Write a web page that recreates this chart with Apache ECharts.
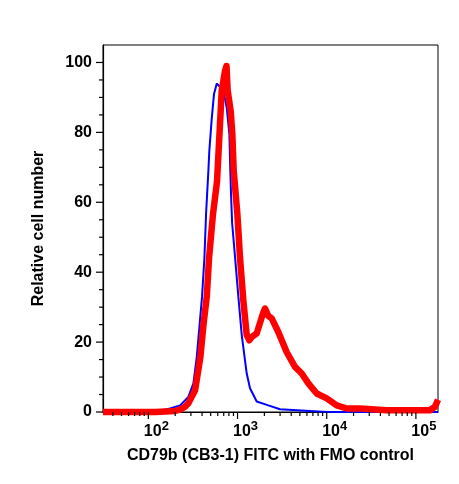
<!DOCTYPE html>
<html>
<head>
<meta charset="utf-8">
<script src="https://cdn.jsdelivr.net/npm/echarts@6/dist/echarts.min.js"></script>
<style>
  html, body { margin: 0; padding: 0; background: #fff; }
  #chart { width: 459px; height: 484px; }
</style>
</head>
<body>
<div id="chart"></div>
<script>
// FMO control (blue), [fluorescence, relative cell number]
const fmoData = [
  [31, 0], [120, 0], [175, 1], [227, 1.9], [281, 4.3], [320, 8.2], [349, 15.7],
  [400, 33], [425, 44], [444, 56.8], [471, 69], [483, 74.8], [514, 84], [545, 91],
  [585, 94], [609, 94.3], [693, 92], [757, 87], [810, 79.6], [830, 69], [846, 62],
  [870, 54], [938, 44.3], [1021, 33], [1115, 22], [1268, 11], [1380, 6.8],
  [1641, 3], [2214, 1.9], [2993, 0.8], [6502, 0.3], [10000, 0], [177000, 0]
];
// CD79b (CB3-1) FITC stained (red)
const stainedData = [
  [31, 0], [120, 0], [199, 0.3], [227, 0.7], [258, 1.5], [281, 2.5], [334, 6.2],
  [383, 15.7], [415, 25], [452, 33], [479, 44], [531, 56.7], [589, 66], [665, 92],
  [724, 97.6], [752, 99], [775, 92], [839, 86], [874, 79.5], [906, 69], [995, 56.7],
  [1067, 44], [1161, 32], [1268, 22], [1355, 20.5], [1450, 21.5], [1641, 22.5],
  [1710, 23], [1945, 28.5], [2032, 29.6], [2214, 27.5], [2416, 26.8], [2865, 22.9],
  [3562, 17.1], [4411, 12.9], [5248, 11], [6223, 8.2], [7727, 5.3], [10000, 3.9],
  [12940, 1.9], [16750, 1.0], [23600, 1.0], [47100, 0.5], [143900, 0.5],
  [163800, 1.5], [177000, 3.5]
];

const X_MIN = 31;
const X_MAX = 177000;
const Y_MIN = 0;
const Y_MAX = 105;

// tick positions
const xMajorTicks = [100, 1000, 10000, 100000];
const xMinorTicks = [
  40, 50, 60, 70, 80, 90,
  200, 300, 400, 500, 600, 700, 800, 900,
  2000, 3000, 4000, 5000, 6000, 7000, 8000, 9000,
  20000, 30000, 40000, 50000, 60000, 70000, 80000, 90000
];
const yMajorTicks = [0, 20, 40, 60, 80, 100];
const yMinorTicks = [5, 10, 15, 25, 30, 35, 45, 50, 55, 65, 70, 75, 85, 90, 95];

const FONT = '"Liberation Sans", Arial, Helvetica, sans-serif';

// ticks drawn outward from the frame, positioned by the axes themselves
function tickSeries(values, dir, len) {
  return {
    type: 'custom',
    silent: true,
    clip: false,
    z: 5,
    data: values.map(v => dir === 'x' ? [v, Y_MIN] : [X_MIN, v]),
    renderItem: (params, api) => {
      const p = api.coord([api.value(0), api.value(1)]);
      const shape = dir === 'x'
        ? { x1: p[0], y1: p[1], x2: p[0], y2: p[1] + len }
        : { x1: p[0] - len, y1: p[1], x2: p[0], y2: p[1] };
      return { type: 'line', shape: shape, style: { stroke: '#000', lineWidth: 1.2 } };
    }
  };
}

const chart = echarts.init(document.getElementById('chart'));

chart.setOption({
  animation: false,
  backgroundColor: '#fff',
  grid: {
    left: 103, right: 21, top: 45, bottom: 72,
    show: true, borderColor: '#000', borderWidth: 1, backgroundColor: 'transparent'
  },
  xAxis: {
    type: 'log',
    logBase: 10,
    min: X_MIN,
    max: X_MAX,
    name: 'CD79b (CB3-1) FITC with FMO control',
    nameLocation: 'middle',
    nameGap: 36,
    nameTextStyle: { color: '#000', fontFamily: FONT, fontWeight: 'bold', fontSize: 16 },
    axisLine: { lineStyle: { color: '#000', width: 1.2 } },
    axisTick: { show: false },
    splitLine: { show: false },
    axisLabel: {
      margin: 8,
      showMinLabel: false,
      showMaxLabel: false,
      formatter: v => '{b|10}{s|' + Math.round(Math.log10(v)) + '}',
      rich: {
        b: { fontFamily: FONT, fontWeight: 'bold', fontSize: 16, lineHeight: 16, color: '#000', padding: [7, 0, 0, 16] },
        s: { fontFamily: FONT, fontWeight: 'bold', fontSize: 13, lineHeight: 13, color: '#000', verticalAlign: 'top' }
      }
    }
  },
  yAxis: {
    type: 'value',
    min: Y_MIN,
    max: Y_MAX,
    interval: 20,
    name: 'Relative cell number',
    nameLocation: 'middle',
    nameGap: 56,
    nameTextStyle: { color: '#000', fontFamily: FONT, fontWeight: 'bold', fontSize: 16 },
    axisLine: { show: true, lineStyle: { color: '#000', width: 1.2 } },
    axisTick: { show: false },
    splitLine: { show: false },
    axisLabel: {
      margin: 11,
      showMaxLabel: false,
      color: '#000',
      fontFamily: FONT,
      fontWeight: 'bold',
      fontSize: 16
    }
  },
  series: [
    {
      name: 'FMO control',
      type: 'line',
      data: fmoData,
      showSymbol: false,
      clip: false,
      lineStyle: { color: '#0000ff', width: 2 },
      z: 2
    },
    {
      name: 'CD79b (CB3-1) FITC',
      type: 'line',
      data: stainedData,
      showSymbol: false,
      clip: false,
      lineStyle: { color: '#ff0000', width: 6.5, join: 'round' },
      z: 3
    },
    tickSeries(xMajorTicks, 'x', 7),
    tickSeries(xMinorTicks, 'x', 4),
    tickSeries(yMajorTicks, 'y', 7),
    tickSeries(yMinorTicks, 'y', 4)
  ]
});
</script>
</body>
</html>
